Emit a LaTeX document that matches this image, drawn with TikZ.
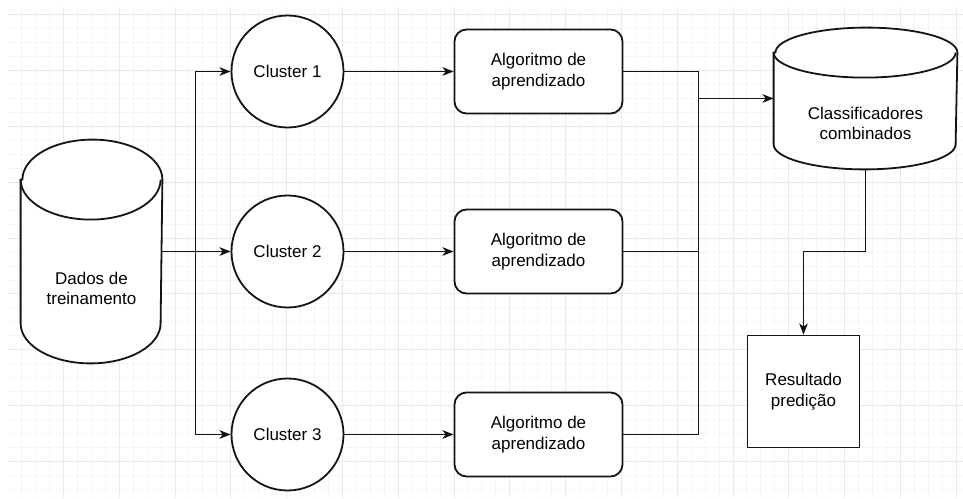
\documentclass[tikz,border=0pt]{standalone}
\usepackage{fontspec}
\setmainfont{Liberation Sans}
\usetikzlibrary{arrows.meta,calc}
\definecolor{gminorc}{RGB}{245,245,245}
\definecolor{gmajorc}{RGB}{233,233,233}
\definecolor{linec}{RGB}{20,20,20}
\begin{document}
\begin{tikzpicture}[x=1pt,y=1pt,
  line width=1.8pt, draw=linec,
  arr/.style={-{Stealth[length=11pt,width=8.5pt,inset=3pt]}},
  txt/.style={font=\fontsize{17}{20.5}\selectfont, align=center, text=black},
  clus/.style={circle, draw=linec, minimum size=112pt, inner sep=0pt, txt, fill=white},
  algo/.style={rectangle, rounded corners=12pt, draw=linec, minimum width=168pt, minimum height=84pt, txt, fill=white},
  res/.style={rectangle, draw=linec, minimum width=112pt, minimum height=112pt, txt, fill=white},
  cylhold/.style={rectangle, draw=none, inner sep=0pt},
  gminor/.style={draw=gminorc, line width=1pt},
  gmajor/.style={draw=gmajorc, line width=1pt}
]
% background and bounding box
\fill[white] (0,0) rectangle (963,498);
\useasboundingbox (0,0) rectangle (963,498);
% grid
\begin{scope}
\clip (8,0) rectangle (963,491);
\foreach \k in {1,...,68} \draw[gminor] ({7.6+13.95*\k},0) -- ++(0,491);
\foreach \k in {0,...,35} \draw[gminor] (8,{483-13.95*\k}) -- (963,{483-13.95*\k});
\foreach \j in {0,...,16} \draw[gmajor] ({63.4+55.8*\j},0) -- ++(0,491);
\foreach \j in {0,...,8} \draw[gmajor] (8,{483-55.8*\j}) -- (963,{483-55.8*\j});
\end{scope}

% Dados de treinamento (cylinder)
\node[cylhold, minimum width=140pt, minimum height=222pt] (dados) at (91.5,246.5) {};
\draw[fill=white] ($(dados.north west)+(0,-40)$) -- ($(dados.south west)+(0,40)$)
  arc[start angle=180,end angle=360,x radius=70,y radius=40]
  -- ($(dados.north east)+(0,-40)$)
  arc[start angle=0,end angle=180,x radius=70,y radius=40] -- cycle;
\draw ($(dados.north west)+(0,-40)$) arc[start angle=180,end angle=360,x radius=70,y radius=40];
\node[txt] (dadostxt) at (91.5,209.5) {Dados de\\treinamento};

% Clusters
\node[clus] (c1) at (287.5,426.5) {Cluster 1};
\node[clus] (c2) at (287.5,246.5) {Cluster 2};
\node[clus] (c3) at (287.5,63.5) {Cluster 3};

% Algoritmos
\node[algo] (a1) at (538.5,426.5) {Algoritmo de\\aprendizado};
\node[algo] (a2) at (538.5,246.5) {Algoritmo de\\aprendizado};
\node[algo] (a3) at (538.5,63.5) {Algoritmo de\\aprendizado};

% Classificadores combinados (cylinder)
\node[cylhold, minimum width=182pt, minimum height=140pt] (cc) at (865.5,399.5) {};
\draw[fill=white] ($(cc.north west)+(0,-25)$) -- ($(cc.south west)+(0,25)$)
  arc[start angle=180,end angle=360,x radius=91,y radius=25]
  -- ($(cc.north east)+(0,-25)$)
  arc[start angle=0,end angle=180,x radius=91,y radius=25] -- cycle;
\draw ($(cc.north west)+(0,-25)$) arc[start angle=180,end angle=360,x radius=91,y radius=25];
\node[txt] (cctxt) at (865.5,374.5) {Classificadores\\combinados};

% Resultado
\node[res] (res) at (803.5,106.5) {Resultado\\predição};

% connectors
\coordinate (jl) at (195.5,246.5);
\coordinate (jr) at (698.5,399.5);
\draw[arr] (dados.east) -- (c2);
\draw[arr] (jl) |- (c1);
\draw[arr] (jl) |- (c3);
\draw[arr] (c1) -- (a1);
\draw[arr] (c2) -- (a2);
\draw[arr] (c3) -- (a3);
\draw (a1.east) -| (jr);
\draw (a2.east) -| (jr);
\draw (a3.east) -| (jr);
\draw[arr] (jr) -- (cc);
\coordinate (bend) at (cc.south |- 0,246.5);
\draw[arr] (cc.south) -- (bend) -| (res.north);
\end{tikzpicture}
\end{document}
